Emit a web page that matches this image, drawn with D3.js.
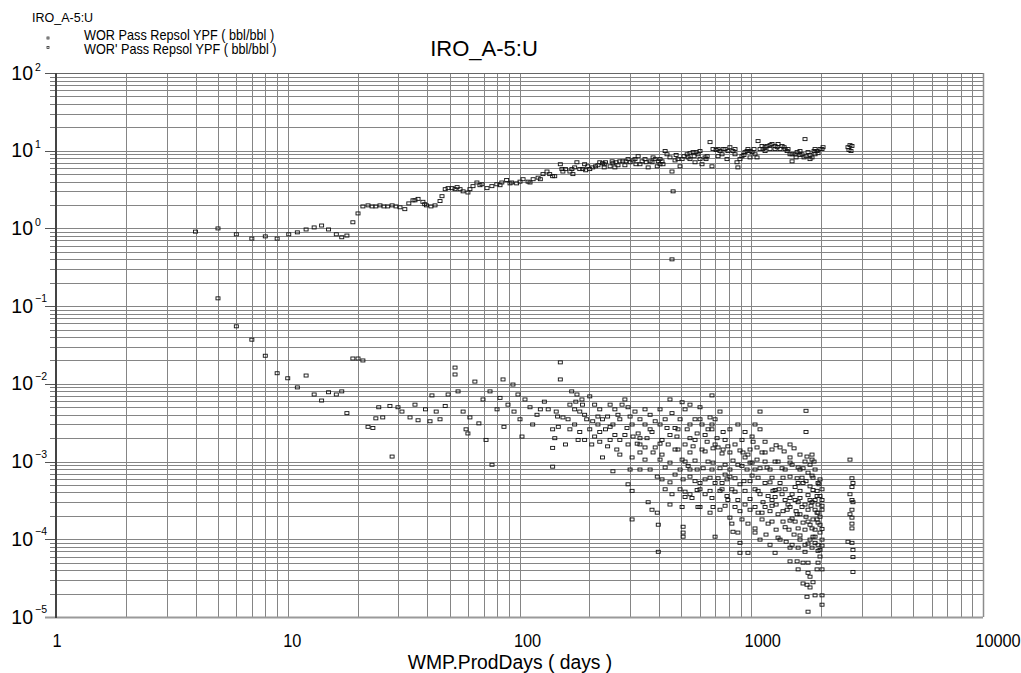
<!DOCTYPE html>
<html><head><meta charset="utf-8">
<script src="https://cdn.jsdelivr.net/npm/d3@7"></script>
<style>
body{margin:0;background:#fff}
text{font-family:"Liberation Sans",Arial,Helvetica,sans-serif;fill:#000}
</style>
</head><body>
<svg id="chart" width="1021" height="673"></svg>
<script>
const chartTitle = "IRO_A-5:U";
const cornerLabel = "IRO_A-5:U";
const seriesNames = ["WOR Pass Repsol YPF ( bbl/bbl )", "WOR' Pass Repsol YPF ( bbl/bbl )"];
const xAxisTitle = "WMP.ProdDays ( days )";
const xTickValues = [1, 10, 100, 1000, 10000];
const yTickExponents = [2, 1, 0, -1, -2, -3, -4, -5];

// WOR  [days, bbl/bbl]
const worPoints = [
[4.0,0.91],[5.0,1.0],[6.0,0.84],[7.0,0.74],[8.0,0.79],[9.0,0.74],[10.1,0.84],[11,0.89],[12,0.97],[13,1.03],
[14,1.09],[15,0.97],[16.2,0.84],[17.1,0.77],[18,0.81],[19.1,1.2],[20.1,1.56],[21.1,1.92],[22.2,1.98],[23.1,1.92],
[24,1.92],[25,1.98],[26,1.92],[27,1.92],[28.2,1.98],[29.3,1.92],[30.5,1.87],[32,1.77],[33.3,2.1],[34.7,2.3],
[36.5,2.4],[38.3,2.2],[39.7,1.98],[41.5,1.92],[43.2,1.98],[45.4,2.25],[46.3,2.6],[47.8,3.2],[49.2,3.3],[51.2,3.3],
[53.8,3.4],[55.4,3.2],[57.1,3.0],[59.9,2.9],[63,3.5],[65.5,3.9],[68.9,3.7],[72.4,3.3],[76,3.5],[79.8,3.7],
[83.9,3.9],[88,4.2],[92.5,3.9],[97.2,3.8],[100.5,4.0],[103.6,4.3],[108.9,4.0],[114.5,4.3],[120.3,4.5],[126.3,5.0],
[131.4,5.4],[135,5.0],[141.9,4.7],[150,6.7],[152.4,5.8],[153.9,5.4],[165,5.4],[168.3,5.8],[170,5.0],[176.9,7.1],
[182,5.8],[187.4,5.8],[191,6.7],[193,5.6],[201,5.8],[207,6.1],[213,6.3],[222,7.1],[228,6.9],[232,6.1],[235,7.1],
[246,6.3],[253,6.9],[258,6.1],[261,7.1],[271,7.3],[279,7.3],[285,6.5],[288,7.3],[300,7.1],[309,7.5],[315,7.8],
[325,8.5],[331,6.7],[338,7.3],[348,7.8],[359,6.1],[366,7.3],[373,7.1],[385,7.8],[393,6.3],[404,7.8],[404,6.7],
[412,7.3],[425,9.9],[433,9.0],[446,8.2],[455,5.4],[460,3.0],[455,0.40],[469,7.5],[483,7.8],[493,6.3],[513,8.5],
[529,9.0],[544,9.3],[544,7.8],[561,9.6],[572,7.1],[578,9.6],[601,9.9],[601,7.8],[613,6.7],[632,8.2],[645,8.5],
[664,12.9],[677,6.3],[684,10.5],[705,10.2],[719,8.5],[733,9.9],[756,10.5],[771,10.5],[786,7.8],[809,11.1],
[834,9.9],[851,9.0],[868,7.1],[876,6.1],[894,7.8],[912,8.5],[940,9.6],[959,9.9],[988,9.9],[988,8.2],[1008,9.6],
[1038,9.0],[1059,8.2],[1070,13.3],[1091,10.5],[1113,11.5],[1147,11.1],[1147,9.9],[1170,11.5],[1205,11.8],
[1229,12.2],[1267,11.5],[1267,10.5],[1293,11.1],[1331,10.5],[1358,11.5],[1400,10.5],[1428,9.9],[1470,9.0],
[1500,9.0],[1500,7.3],[1546,9.0],[1577,9.6],[1623,8.8],[1623,9.9],[1656,9.0],[1706,14.1],[1723,8.5],[1758,9.6],
[1793,8.8],[1829,8.2],[1885,9.0],[1885,10.5],[1923,9.9],[1980,10.5],[2020,10.5],[2615,11.1],[2641,10.2],
[2667,11.8],[2694,9.9],[2720,11.5],
[232,6.7],[251,7.3],[266,6.5],[294,7.8],[318,6.7],[352,7.1],[377,8.2],[397,7.3],[416,6.7],[474,8.8],[503,7.8],
[534,8.2],[567,8.5],[589,9.0],[638,7.8],[719,10.5],[748,9.0],[793,9.9],[851,10.5],[930,8.8],[968,10.5],
[1028,10.5],[1124,10.5],[1205,10.5],[1305,12.2],[1386,11.1],[1441,10.5],[1561,8.2],[1690,8.2],[1793,7.8],
[1866,9.9],[1942,9.3],[2041,11.1],[158,5.8],[173,6.1],[197,6.3],[218,6.5],[111,3.9],[123,4.3],[139,4.7],
[82.4,3.6],[91,3.8],[67.5,3.6],[61.1,3.2],[52.7,3.2],[39,2.05],[35.4,2.3]
];

// WOR' (derivative) [days, bbl/bbl]
const worDerivPoints = [
[5.0,0.126],[6.0,0.055],[7.0,0.037],[8.0,0.023],[9.0,0.0137],[10,0.0118],[11,0.0090],[12,0.0128],[13,0.0073],
[14,0.0061],[15,0.0078],[16.2,0.0073],[17.1,0.0080],[18,0.0042],[19.1,0.0212],[20.1,0.0212],[21.1,0.0200],
[22.2,0.0028],[23.3,0.0027],[24,0.0036],[24.7,0.0050],[25.7,0.0037],[27.6,0.0052],[28.2,0.00116],[29.9,0.0050],
[31.1,0.0044],[33.7,0.0037],[35.4,0.0054],[36.5,0.0034],[39.3,0.0047],[41.1,0.0033],[41.9,0.0071],[43.7,0.0044],
[45.4,0.0035],[47.8,0.0052],[49.2,0.0073],[52.7,0.0162],[52.7,0.0132],[54.3,0.0080],[57.1,0.0044],[58.8,0.0026],
[59.9,0.0023],[61.1,0.0037],[64.2,0.0107],[66.8,0.0031],[69.6,0.0063],[71.7,0.0019],[74.6,0.0080],[76.1,0.00091],
[80,0.0047],[82.4,0.0066],[84.9,0.0114],[85.7,0.0028],[89.2,0.0054],[93.7,0.0098],[94.7,0.0044],[98.5,0.0073],
[100.5,0.0035],[102.5,0.0021],[105.6,0.0063],[111,0.0050],[114,0.0030],[119,0.0040],[123,0.0047],[128,0.0059],
[133,0.0047],[139,0.0026],[142,0.0020],[139,0.0015],[139,0.00086],[144,0.0044],[146,0.0038],
[150,0.0189],[150,0.0114],[168,0.0080],[177,0.0073],[175,0.0059],[186,0.0063],[201,0.0069],[187,0.0054],
[182,0.0044],[154,0.0037],[147,0.0028],[158,0.00166],[195,0.0035],[207,0.0033],[222,0.0047],[218,0.0038],
[228,0.0035],[240,0.0038],[235,0.0026],[253,0.0030],[271,0.0035],[285,0.0063],[277,0.0054],[300,0.0038],
[291,0.0027],[191,0.0019],[211,0.0021],[222,0.0018],[240,0.00157],[263,0.00143],[228,0.00113],[253,0.00075],
[294,0.00166],[309,0.0021],[325,0.0023],[322,0.0017],[306,0.00113],[300,0.00079],[294,0.00051],[306,0.00042],
[331,0.00131],[355,0.0020],[373,0.0024],[385,0.0033],[425,0.0035],[433,0.0027],[404,0.0017],[377,0.00131],
[366,0.00079],[393,0.00064],[359,0.00030],[373,0.00024],[393,0.00022],[397,0.000154],[306,0.00018],[397,0.000069],
[446,0.0063],[455,0.0042],[478,0.0021],[483,0.00143],[503,0.00106],[446,0.00097],[446,0.00054],[446,0.00028],
[493,0.00044],[503,0.0058],[529,0.0026],[544,0.0020],[544,0.00131],[584,0.0023],[601,0.0050],[613,0.00143],
[584,0.00079],[518,0.00041],[518,0.00035],[508,0.000145],[508,0.000122],[508,0.000108],[503,0.00026],[589,0.00026],
[645,0.00180],[664,0.0037],[677,0.0030],[677,0.0026],[712,0.0020],[733,0.0044],[756,0.0024],[719,0.00152],
[756,0.00143],[809,0.00131],[851,0.00166],[912,0.0019],[921,0.00131],[959,0.00079],[1008,0.0021],[988,0.00143],
[988,0.00097],[988,0.00056],[1018,0.0018],[1059,0.00106],[1070,0.00062],[684,0.00026],[698,0.000108],[733,0.00024],
[809,0.00019],[825,0.000159],[834,0.000125],[876,0.000122],[894,0.000090],[894,0.000067],[968,0.000067],
[1070,0.00022],[1038,0.000122],[1124,0.00030],[1091,0.0044],[1091,0.0026],[1113,0.00131],[1170,0.00084],
[1205,0.00054],[1241,0.00042],[1267,0.000067],[1182,0.000159],[1267,0.00035],[1371,0.00062],[1400,0.00044],
[1428,0.00024],[1371,0.000169],[1500,0.00091],[1470,0.00113],[1593,0.00084],[1577,0.00061],[1656,0.00062],
[1673,0.00053],[1593,0.00053],[1593,0.00030],[1656,0.00026],[1546,0.000169],[1673,0.000164],[1706,0.000133],
[1793,0.00032],[1793,0.00048],[1758,0.00072],[1740,0.00116],[1793,0.00091],[1829,0.00123],[1829,0.00106],
[1847,0.00062],[1923,0.00042],[1923,0.00036],[1885,0.00024],[1942,0.00022],[1980,0.000195],[1847,0.00018],
[1885,0.000133],[1980,0.000122],[1885,0.000090],[1980,0.000073],[1980,0.000060],[1942,0.000050],[1923,0.000041],
[2020,0.000041],[1758,0.000050],[1673,0.000050],[1577,0.000052],[1470,0.000052],[1593,0.000041],[1758,0.000037],
[1793,0.000033],[1847,0.000028],[1740,0.000026],[1673,0.000027],[1793,0.000024],[1885,0.000019],[2020,0.000019],
[2020,0.0000144],[1758,0.0000117],[1740,0.0000182],[1723,0.0045],[1723,0.0024],[677,0.0071],
[2667,0.00106],[2720,0.00061],[2747,0.00053],[2720,0.00047],[2667,0.00038],[2720,0.00032],[2747,0.00030],
[2720,0.00024],[2667,0.00021],[2720,0.000190],[2720,0.000159],[2720,0.000138],[2615,0.000093],[2720,0.000090],
[2747,0.000073],[2747,0.000059],[2747,0.000038],
[1500,0.00038],[1546,0.00032],[1623,0.00034],[1706,0.00028],[1758,0.00024],[1829,0.00030],[1885,0.00032],
[1942,0.00028],[2020,0.00032],[2020,0.00024],[1980,0.000154],[1923,0.00018],[1793,0.000154],[1723,0.000195],
[1623,0.00021],[1561,0.00023],[1500,0.000185],[1441,0.00028],[1400,0.00032],[1358,0.00038],[1318,0.00044],
[1280,0.00028],[1229,0.00032],[1205,0.00023],[1305,0.00021],[1455,0.000133],[1530,0.000115],[1623,0.000099],
[1706,0.000085],[1793,0.000099],[1885,0.000108],[1942,0.000085],[2020,0.000099],[1829,0.000078],[1706,0.000069],
[1593,0.000078],[1500,0.000085],[1414,0.000093],[1331,0.000099],[1280,0.000133],[1158,0.000115],[1113,0.00018],
[1147,0.00026],[1091,0.00038],[1038,0.00044],[940,0.00042],[894,0.00051],[851,0.00061],[809,0.00079],[771,0.00091],
[786,0.00059],[825,0.00044],[876,0.00032],[940,0.00028],[988,0.00024],[912,0.00018],[851,0.00026],[793,0.00032],
[748,0.00044],[719,0.00061],[677,0.00079],[651,0.00100],[632,0.00059],[601,0.00044],[572,0.00056],[544,0.00079],
[518,0.00100],[493,0.00079],[469,0.00068],[425,0.00084],[404,0.00106],[385,0.00152],[348,0.00152],[331,0.00079],
[348,0.00106],[412,0.00059],[425,0.00044],[455,0.00038],[555,0.00034],[632,0.00038],[664,0.00042],[698,0.00053],
[771,0.00068],[876,0.00091],[940,0.00113],[1038,0.00079],[1147,0.00100],[1205,0.00079],[1305,0.00100],
[1400,0.00079],[1546,0.00047],[1623,0.00079],[1706,0.00100],[1885,0.00079],[1980,0.00059],[2020,0.00044],
[1961,0.00051],[544,0.0030],[572,0.0035],[613,0.0030],[632,0.0022],[698,0.00166],[771,0.0019],[809,0.0026],
[876,0.0030],[940,0.0024],[1038,0.0030],[1147,0.0018],[1229,0.00143],[1331,0.00152],[1470,0.00166],[412,0.0019],
[446,0.0022],[469,0.0027],[348,0.0030],[331,0.0035],[315,0.0044],[294,0.0050],[258,0.0047],[246,0.0054],
[211,0.0054],[165,0.0054],[162,0.0035],[173,0.0030],[182,0.0024],[201,0.0026],[258,0.0022],[271,0.0019],
[285,0.0022],[348,0.0047],[366,0.0040],[404,0.0047],[493,0.0035],[518,0.0047],[544,0.0054],
[561,0.00157],[632,0.00135],[684,0.00148],[748,0.00127],[793,0.00157],[894,0.00139],[968,0.00123],[1059,0.00152],
[1147,0.00131],[1280,0.00162],[1386,0.00135],[1530,0.00148],[1623,0.00123],
[534,0.00088],[572,0.00103],[620,0.00082],[684,0.00097],[733,0.00082],[834,0.00103],[912,0.00088],[1008,0.00097],
[1091,0.00082],[1267,0.00100],[1358,0.00082],[1470,0.00097],[1673,0.00082],[1866,0.00100],
[508,0.00059],[544,0.00064],[601,0.00053],[664,0.00062],[748,0.00053],[809,0.00064],[930,0.00056],[1008,0.00066],
[1147,0.00053],[1229,0.00062],[1331,0.00053],[1470,0.00064],[1723,0.00056],[1829,0.00066],[1942,0.00053],
[544,0.00038],[584,0.00043],[677,0.00034],[733,0.00042],[786,0.00036],[851,0.00041],[988,0.00033],[1070,0.00042],
[1182,0.00036],[1267,0.00043],[1470,0.00034],[1623,0.00042],[1758,0.00037],[1847,0.00043],[1980,0.00036],
[601,0.00026],[664,0.00022],[771,0.00027],[894,0.00023],[1038,0.00026],[1113,0.00022],[1229,0.00027],[1371,0.00023],
[1470,0.00026],[1577,0.00021],[1811,0.00027],[1923,0.00022],[2020,0.00027],
[968,0.000159],[1038,0.000138],[1229,0.000169],[1400,0.000143],[1470,0.000174],[1593,0.000138],[1758,0.000169],
[1829,0.000138],[1942,0.000164],[2020,0.000136],
[1091,0.000099],[1205,0.000085],[1305,0.000105],[1470,0.000078],[1623,0.000112],[1758,0.000088],[1847,0.000108],
[1942,0.000071],[2020,0.000083],
[173,0.0047],[191,0.0040],[218,0.0030],[246,0.0028],[266,0.0040],[306,0.0030],[331,0.0020],[366,0.0026],
[404,0.0030],[438,0.00166],[469,0.00143],[412,0.00123],[331,0.00166],[271,0.00123],[246,0.0019],[222,0.0024],
[205,0.00166],[179,0.0019],[165,0.0026],[518,0.00166],[483,0.0026],[572,0.0019],[601,0.0035],[651,0.0026],[698,0.0035]
];

(function () {
const svg = d3.select("#chart");
const pL = 56, pR = 983, pT = 73, pB = 617;
const x = d3.scaleLog().domain([1, 10000]).range([pL, pR]);
const y = d3.scaleLog().domain([1e-5, 100]).range([pB, pT]);
const crisp = v => Math.round(v) + 0.5;

const xGrid = [];
[1, 10, 100, 1000].forEach(d => { for (let k = 1; k <= 9; k++) xGrid.push(k * d); });
xGrid.push(10000);
const yGrid = [];
[1e-5, 1e-4, 1e-3, 1e-2, 1e-1, 1, 10].forEach(d => { for (let k = 1; k <= 9; k++) yGrid.push(k * d); });
yGrid.push(100);

const g = svg.append("g");
g.selectAll("line.vx").data(xGrid).join("line")
  .attr("x1", d => crisp(x(d))).attr("x2", d => crisp(x(d)))
  .attr("y1", pT).attr("y2", pB)
  .attr("stroke", "#858585").attr("stroke-width", 1);
g.selectAll("line.hy").data(yGrid).join("line")
  .attr("x1", pL).attr("x2", pR)
  .attr("y1", d => crisp(y(d))).attr("y2", d => crisp(y(d)))
  .attr("stroke", "#858585").attr("stroke-width", 1);

const isMajor = v => Math.abs(Math.log10(v) - Math.round(Math.log10(v))) < 1e-9;
g.selectAll("line.tk").data(yGrid).join("line")
  .attr("x1", d => isMajor(d) ? pL - 11 : pL - 6).attr("x2", pL)
  .attr("y1", d => crisp(y(d))).attr("y2", d => crisp(y(d)))
  .attr("stroke", d => isMajor(d) ? "#555" : "#777").attr("stroke-width", 1);

g.append("line").attr("x1", pL - 11).attr("x2", pR).attr("y1", pB + 0.5).attr("y2", pB + 0.5)
  .attr("stroke", "#9a9a9a").attr("stroke-width", 2);
g.append("line").attr("x1", pL).attr("x2", pR).attr("y1", pT + 0.5).attr("y2", pT + 0.5)
  .attr("stroke", "#666").attr("stroke-width", 1);
g.append("line").attr("x1", pR + 0.5).attr("x2", pR + 0.5).attr("y1", pT).attr("y2", pB)
  .attr("stroke", "#8c8c8c").attr("stroke-width", 1.5);
g.append("line").attr("x1", pL).attr("x2", pL).attr("y1", pT).attr("y2", pB + 1)
  .attr("stroke", "#444").attr("stroke-width", 2);

const yl = svg.append("g");
yTickExponents.forEach(e => {
  const yy = y(Math.pow(10, e));
  yl.append("text").attr("x", 33).attr("y", yy + 6.5).attr("text-anchor", "end")
    .attr("font-size", 19.5).text("10");
  yl.append("text").attr("x", 35).attr("y", yy - (e < 0 ? 4 : 2.5)).attr("text-anchor", "start")
    .attr("font-size", 10.5).text(e < 0 ? "\u2212" + Math.abs(e) : String(e));
});

svg.append("g").selectAll("text").data(xTickValues).join("text")
  .attr("transform", d => `translate(${x(d) + 1 + 3.5 * (String(d).length - 1)},647) scale(0.86,1)`)
  .attr("text-anchor", "middle").attr("font-size", 19).text(d => String(d));

svg.append("text").attr("transform", "translate(510,669) scale(0.92,1)")
  .attr("text-anchor", "middle").attr("font-size", 21).text(xAxisTitle);

svg.append("text").attr("x", 484).attr("y", 56).attr("text-anchor", "middle")
  .attr("font-size", 22).text(chartTitle);

svg.append("text").attr("x", 32).attr("y", 22).attr("font-size", 12.5).text(cornerLabel);
seriesNames.forEach((n, i) => {
  svg.append("rect").attr("x", 47).attr("y", 37 + i * 9.5).attr("width", 2).attr("height", 2)
    .attr("fill", "none").attr("stroke", "#333").attr("stroke-width", 0.8);
  svg.append("text").attr("transform", `translate(84,${40 + i * 14}) scale(0.92,1)`)
    .attr("font-size", 13.8).text(n);
});

const pts = svg.append("g");
const drawSeries = (data) => {
  pts.append("g").selectAll("rect").data(data).join("rect")
    .attr("x", d => x(d[0]) - 2).attr("y", d => y(d[1]) - 1.5)
    .attr("width", 4).attr("height", 3)
    .attr("fill", "none").attr("stroke", "#111").attr("stroke-width", 0.9);
};
drawSeries(worPoints);
drawSeries(worDerivPoints);
})();
</script>
</body></html>
